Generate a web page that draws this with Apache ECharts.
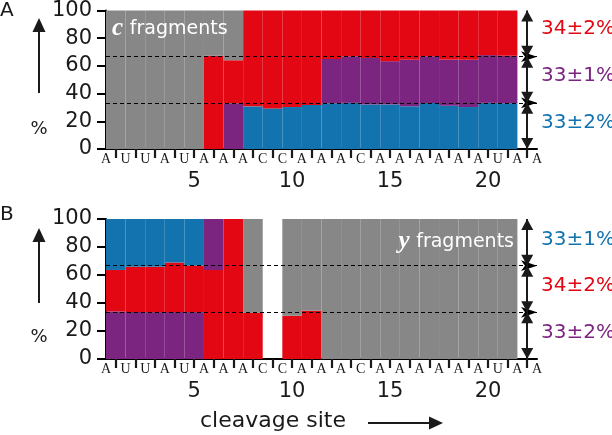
<!DOCTYPE html>
<html>
<head>
<meta charset="utf-8">
<script src="https://cdn.jsdelivr.net/npm/echarts@6/dist/echarts.min.js"></script>
<style>html,body{margin:0;padding:0;background:#fff;}#c{width:612px;height:435px;}</style>
</head>
<body>
<div id="c"></div>
<script>
const sites = ['1','2','3','4','5','6','7','8','9','10','11','12','13','14','15','16','17','18','19','20','21','22'];
const letters = ['A','U','U','A','U','A','A','A','C','C','A','A','A','C','A','A','A','A','A','A','U','A','A'];
const siteTickLabels = ['5','10','15','20'];
const yTicks = [0, 20, 40, 60, 80, 100];
const thirds = [33.33, 66.67];

// Panel A: c fragments (segment sizes, %)
const aBlue   = [0,0,0,0,0,0,0,30.8,29.3,30.3,31.7,33.0,33.3,32.2,32.2,30.8,33.3,31.2,30.3,33.3,33.0];
const aPurple = [0,0,0,0,0,0,33.0,0,0,0,0,32.0,33.6,33.5,31.2,33.7,33.6,33.3,34.2,34.5,34.4];
const aRed    = [0,0,0,0,0,67.4,31.0,69.2,70.7,69.7,68.3,35.0,33.1,34.3,36.6,35.5,33.1,35.5,35.5,32.2,32.6];
const aGray   = [100,100,100,100,100,32.6,36.0,0,0,0,0,0,0,0,0,0,0,0,0,0,0];
const aNotes  = ['34±2%','33±1%','33±2%'];

// Panel B: y fragments (segment sizes, %)
const bPurple    = [34.0,33.5,33.5,33.5,33.5,0,0,0,0,0,0,0,0,0,0,0,0,0,0,0,0];
const bRed       = [29.6,32.4,32.4,35.5,33.2,63.6,100,33.1,0,30.9,34.5,0,0,0,0,0,0,0,0,0,0];
const bPurpleTop = [0,0,0,0,0,36.4,0,0,0,0,0,0,0,0,0,0,0,0,0,0,0];
const bBlue      = [36.4,34.1,34.1,31.0,33.3,0,0,0,0,0,0,0,0,0,0,0,0,0,0,0,0];
const bGray      = [0,0,0,0,0,0,0,66.9,0,69.1,65.5,100,100,100,100,100,100,100,100,100,100];
const bNotes     = ['33±1%','34±2%','33±2%'];

const C = {blue:'#1273AE', purple:'#7B2480', red:'#E30613', gray:'#878787'};
const FONT = 'DejaVu Sans';
const chart = echarts.init(document.getElementById('c'), null, {renderer:'canvas'});

function siteAxis(grid){
  return {type:'category', gridIndex:grid, data:sites, boundaryGap:true, position:'bottom',
    axisLine:{show:true, lineStyle:{color:'#000', width:2}},
    axisTick:{show:true, alignWithLabel:true, interval:0, length:9, lineStyle:{color:'#1a1a1a', width:2.2}},
    axisLabel:{interval:0, margin:22, fontFamily:FONT, fontSize:21, color:'#1a1a1a',
      formatter:v => siteTickLabels.indexOf(v) >= 0 ? v : ''},
    splitLine:{show:false}};
}
function letterAxis(grid){
  return {type:'category', gridIndex:grid, data:letters, boundaryGap:false, position:'bottom', offset:0,
    axisLine:{show:false}, axisTick:{show:false},
    axisLabel:{interval:0, margin:3, fontFamily:'Liberation Serif', fontSize:14, color:'#1a1a1a'},
    splitLine:{show:false}};
}
function yAx(grid){
  return {type:'value', gridIndex:grid, min:yTicks[0], max:yTicks[yTicks.length-1], interval:20,
    axisLine:{show:true, lineStyle:{color:'#000', width:2}},
    axisTick:{show:true, length:9, lineStyle:{color:'#000', width:2}},
    axisLabel:{margin:14, fontFamily:FONT, fontSize:21, color:'#1a1a1a'},
    splitLine:{show:false}};
}
function bar(name, data, color, xi, yi, stack){
  return {type:'bar', name, data, stack, xAxisIndex:xi, yAxisIndex:yi, barWidth:'100%',
    itemStyle:{color}, silent:true, animation:false};
}
// triangle whose tip sits at the symbol centre
const TIP = 'path://M0,-11 M0,0 L6,11 L-6,11 Z';
function markers(xi, yi){
  const arrows = [[100,66.67],[66.67,33.33],[33.33,0]].map(([a,b]) => [
    {coord:['22', a]}, {coord:['22', b]}]);
  return {type:'line', data:[], xAxisIndex:xi, yAxisIndex:yi, z:10, animation:false, silent:true,
    markLine:{silent:true, animation:false,
      data:[
        ...thirds.map(v => ({yAxis:v, symbol:'none', lineStyle:{type:[4,3], color:'#000', width:1.2}, label:{show:false}})),
        ...arrows.map(p => [{...p[0], symbol:TIP, symbolSize:[12,22], lineStyle:{type:'solid', color:'#1a1a1a', width:2}, label:{show:false}}, {...p[1], symbol:TIP, symbolSize:[12,22]}])
      ]}};
}

const notesStyle = (txt, y, col) => ({type:'text', left:541, top:y-12, z:20,
  style:{text:txt, fill:col, font:'20px "DejaVu Sans"'}});
function upArrow(x, yTip, yEnd){
  return [
    {type:'line', z:20, shape:{x1:x, y1:yEnd, x2:x, y2:yTip+10}, style:{stroke:'#1a1a1a', lineWidth:2}},
    {type:'polygon', z:20, shape:{points:[[x,yTip],[x-6.5,yTip+14],[x+6.5,yTip+14]]}, style:{fill:'#1a1a1a'}}
  ];
}

chart.setOption({
  animation:false,
  grid:[
    {left:106, top:8, width:431, height:141},
    {left:106, top:219, width:431, height:140}
  ],
  xAxis:[siteAxis(0), letterAxis(0), siteAxis(1), letterAxis(1)],
  yAxis:[yAx(0), yAx(1)],
  series:[
    bar('blue', aBlue, C.blue, 0, 0, 'A'),
    bar('purple', aPurple, C.purple, 0, 0, 'A'),
    bar('red', aRed, C.red, 0, 0, 'A'),
    bar('gray', aGray, C.gray, 0, 0, 'A'),
    markers(0, 0),
    bar('purple', bPurple, C.purple, 2, 1, 'B'),
    bar('red', bRed, C.red, 2, 1, 'B'),
    bar('purple2', bPurpleTop, C.purple, 2, 1, 'B'),
    bar('blue', bBlue, C.blue, 2, 1, 'B'),
    bar('gray', bGray, C.gray, 2, 1, 'B'),
    markers(2, 1)
  ],
  graphic:[
    {type:'text', left:0, top:1, style:{text:'A', fill:'#1a1a1a', font:'20px "DejaVu Sans"'}},
    {type:'text', left:0, top:205, style:{text:'B', fill:'#1a1a1a', font:'20px "DejaVu Sans"'}},
    ...upArrow(39, 18, 93),
    ...upArrow(39, 228, 303),
    {type:'text', x:39, y:129, style:{text:'%', fill:'#1a1a1a', font:'18px "DejaVu Sans"', align:'center', verticalAlign:'middle'}},
    {type:'text', x:39, y:337, style:{text:'%', fill:'#1a1a1a', font:'18px "DejaVu Sans"', align:'center', verticalAlign:'middle'}},
    {type:'text', x:112, y:29, z:20, style:{text:'{c|c}  {f|fragments}', verticalAlign:'middle',
      rich:{c:{font:'italic bold 25px "Liberation Serif"', fill:'#fff'}, f:{font:'19px "DejaVu Sans"', fill:'#fff'}}}},
    {type:'text', x:514, y:242, z:20, style:{text:'{c|y}  {f|fragments}', align:'right', verticalAlign:'middle',
      rich:{c:{font:'italic bold 25px "Liberation Serif"', fill:'#fff'}, f:{font:'19px "DejaVu Sans"', fill:'#fff'}}}},
    notesStyle(aNotes[0], 31, C.red),
    notesStyle(aNotes[1], 78, C.purple),
    notesStyle(aNotes[2], 125, C.blue),
    notesStyle(bNotes[0], 242, C.blue),
    notesStyle(bNotes[1], 288, C.red),
    notesStyle(bNotes[2], 335, C.purple),
    {type:'text', x:273, y:421, style:{text:'cleavage site', fill:'#1a1a1a', font:'22px "DejaVu Sans"', align:'center', verticalAlign:'middle'}},
    {type:'line', shape:{x1:368, y1:423, x2:432, y2:423}, style:{stroke:'#1a1a1a', lineWidth:2}},
    {type:'polygon', shape:{points:[[443,423],[429,416.5],[429,429.5]]}, style:{fill:'#1a1a1a'}}
  ]
});
</script>
</body>
</html>
